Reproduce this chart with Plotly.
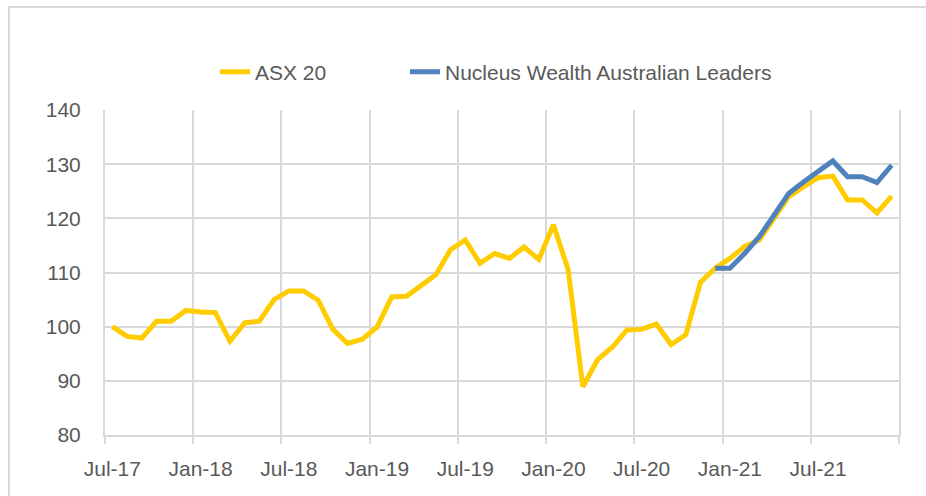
import pandas as pd
import plotly.graph_objects as go

# Monthly categories Jul-17 .. Dec-21
months = list(pd.date_range("2017-07-01", periods=54, freq="MS").strftime("%b-%y"))

asx20 = [100.0, 98.2, 97.9, 101.0, 101.0, 103.0, 102.7, 102.6, 97.3, 100.7,
         101.0, 105.0, 106.6, 106.6, 104.9, 99.5, 96.9, 97.7, 99.9, 105.5,
         105.6, 107.7, 109.6, 114.2, 116.0, 111.7, 113.5, 112.6, 114.7, 112.4,
         118.8, 110.5, 88.9, 93.9, 96.2, 99.4, 99.5, 100.5, 96.7, 98.5,
         108.2, 110.8, 112.6, 114.8, 116.0, 120.0, 124.0, 125.8, 127.5, 127.8,
         123.4, 123.4, 121.0, 124.1]

nucleus = [None] * 41 + [110.8, 110.8, 113.5, 116.6, 120.6, 124.6, 126.7, 128.6,
                         130.6, 127.7, 127.7, 126.6, 129.8]

series_names = ["ASX 20", "Nucleus Wealth Australian Leaders"]
series_colors = ["#FFCC00", "#4F81BD"]

label_every = 6
tick_idx = list(range(0, len(months), label_every))
tick_text = [months[i] for i in tick_idx]

W, H = 926, 496
L, R, T, B = 105, 27, 110, 61
pw, ph = W - L - R, H - T - B

GRID = "#D9D9D9"
TXT = "#595959"
FONT = "Liberation Sans"

x = list(range(len(months)))

fig = go.Figure()
fig.add_trace(go.Scatter(x=x, y=asx20, mode="lines", name=series_names[0],
                         legend="legend",
                         line=dict(color=series_colors[0], width=5)))
fig.add_trace(go.Scatter(x=x, y=nucleus, mode="lines", name=series_names[1],
                         legend="legend2",
                         line=dict(color=series_colors[1], width=5)))

# outer chart border
fig.add_shape(type="rect", xref="paper", yref="paper",
              x0=(9 - L) / pw, x1=(W + 10 - L) / pw,
              y0=(H - B - (H + 10)) / ph, y1=(H - B - 7) / ph,
              line=dict(color=GRID, width=2), fillcolor="rgba(0,0,0,0)", layer="below")

leg_common = dict(orientation="h", xanchor="left", yanchor="middle",
                  y=(H - B - 72) / ph,
                  font=dict(family=FONT, size=21, color=TXT),
                  bgcolor="rgba(0,0,0,0)")

fig.update_layout(
    width=W, height=H,
    margin=dict(l=L, r=R, t=T, b=B),
    paper_bgcolor="white", plot_bgcolor="white",
    font=dict(family=FONT, size=21, color=TXT),
    showlegend=True,
    legend=dict(x=(215 - L) / pw, **leg_common),
    legend2=dict(x=(405 - L) / pw, **leg_common),
    xaxis=dict(range=[-0.5, len(months) - 0.5],
               tickmode="array", tickvals=tick_idx, ticktext=tick_text,
               ticks="", showgrid=False, zeroline=False,
               showline=True, linecolor=GRID, linewidth=2,
               ticklabelstandoff=14,
               tickfont=dict(family=FONT, size=21, color=TXT),
               minor=dict(tick0=-0.5, dtick=label_every, showgrid=True,
                          gridcolor=GRID, gridwidth=2, ticks="outside",
                          ticklen=7, tickcolor=GRID, tickwidth=2)),
    yaxis=dict(range=[80, 140], dtick=10, showgrid=True, gridcolor=GRID,
               gridwidth=2, zeroline=False, showline=True, mirror=True,
               linecolor=GRID, linewidth=2, ticks="", ticklabelstandoff=18,
               tickfont=dict(family=FONT, size=21, color=TXT)),
)

fig.write_html("out.html",
               config={"displayModeBar": False},
               post_script="document.body.style.margin='0';document.body.style.overflow='hidden';")
